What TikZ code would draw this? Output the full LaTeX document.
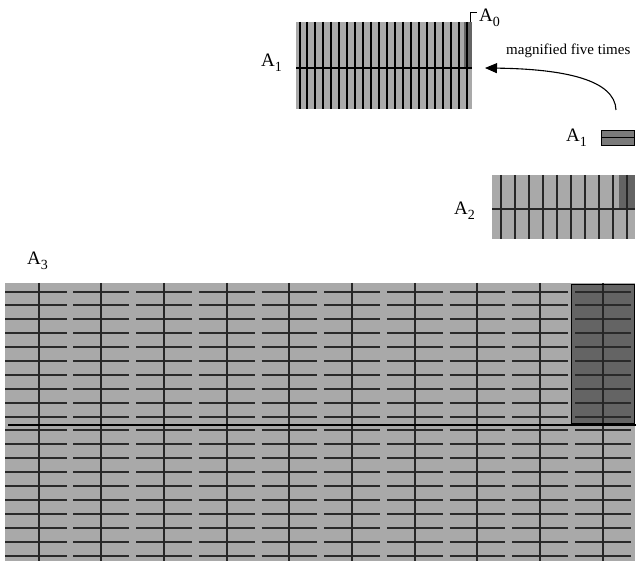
\documentclass[tikz,border=0pt]{standalone}
\usepackage{fontspec}
\setmainfont{Liberation Serif}
\usetikzlibrary{arrows.meta, positioning}
\definecolor{lightpanel}{HTML}{A9A9A9}
\definecolor{darkpanel}{HTML}{646464}
\definecolor{smallpanel}{HTML}{7A7A7A}
\definecolor{rowline}{HTML}{2A2A2A}
\newcommand{\alab}[1]{A\raisebox{-0.5ex}{\fontsize{14pt}{14pt}\selectfont #1}}
\tikzset{
  panel/.style={fill=lightpanel},
  zone/.style={fill=darkpanel},
  bar/.style={line width=2.0pt, draw=black},
  grid/.style={line width=2.0pt, draw=black!85},
  row/.style={line width=2.0pt, draw=rowline},
  cut/.style={line width=2.0pt, draw=black},
  lab/.style={font=\fontsize{19pt}{19pt}\selectfont, inner sep=0pt, anchor=base west},
  note/.style={font=\fontsize{15pt}{15pt}\selectfont, inner sep=0pt, anchor=base west},
  arr/.style={-{Triangle[length=12pt,width=10pt]}, line width=1.1pt},
}

\begin{document}
\begin{tikzpicture}[x=1pt,y=-1pt]
  \useasboundingbox (0,0) rectangle (638,561);
  % magnified strip A1
  \fill[panel] (296,22) rectangle (472,109);
  \fill[zone]  (464,22) rectangle (472,68);
  \foreach \i in {0,...,21}
    \draw[bar] ({int(300+7.97*\i)},22) -- ({int(300+7.97*\i)},109);
  \draw[cut] (296,68) -- (472,68);
  \node[lab] (lblAone) at (261,67) {\alab{1}};
  % A0 marker
  \draw[line width=1pt] (470.5,22) -- (470.5,12.5) -- (477,12.5);
  \node[lab] (lblAzero) at (479,22) {\alab{0}};
  % small strip A1
  \filldraw[fill=smallpanel, draw=black, line width=1pt] (601.5,130.5) rectangle (634.5,145.5);
  \draw[line width=1pt] (601.5,137.5) -- (634.5,137.5);
  \node[lab] (lblAsmall) at (566,142) {\alab{1}};
  % magnify arrow
  \coordinate (src) at (616,110);
  \coordinate (dst) at (485,68);
  \draw[arr] (src) .. controls (615,80) and (565,69) .. (dst);
  \node[note] (magnote) at (506,55) {magnified five times};
  % strip A2
  \fill[panel] (492,175) rectangle (635,239);
  \fill[zone]  (619,175) rectangle (635,209);
  \foreach \i in {0,...,9}
    \draw[grid] ({int(501+14*\i)},175) -- ({int(501+14*\i)},239);
  \draw[grid] (492,209) -- (635,209);
  \node[lab] (lblAtwo) at (454,215) {\alab{2}};
  % plate A3
  \node[lab] (lblAthree) at (27,265) {\alab{3}};
  \fill[panel] (5,283) rectangle (635,561);
  \fill[zone]  (571,284) rectangle (634,424);
  \foreach \r [evaluate=\r as \yy using int(292+13.9*\r)] in {0,...,19}{
    \draw[row] (5,\yy) -- (67.4,\yy);
    \foreach \j in {0,...,8}
      \draw[row] (73.4+62.7*\j,\yy) -- (129.1+62.7*\j,\yy);
  }
  \foreach \i in {0,...,9}
    \draw[grid] ({int(39+62.7*\i)},283) -- ({int(39+62.7*\i)},561);
  \draw[line width=1.5pt] (571.5,284.5) rectangle (634.5,424);
  \draw[cut] (8,425) -- (636,425);
\end{tikzpicture}
\end{document}
